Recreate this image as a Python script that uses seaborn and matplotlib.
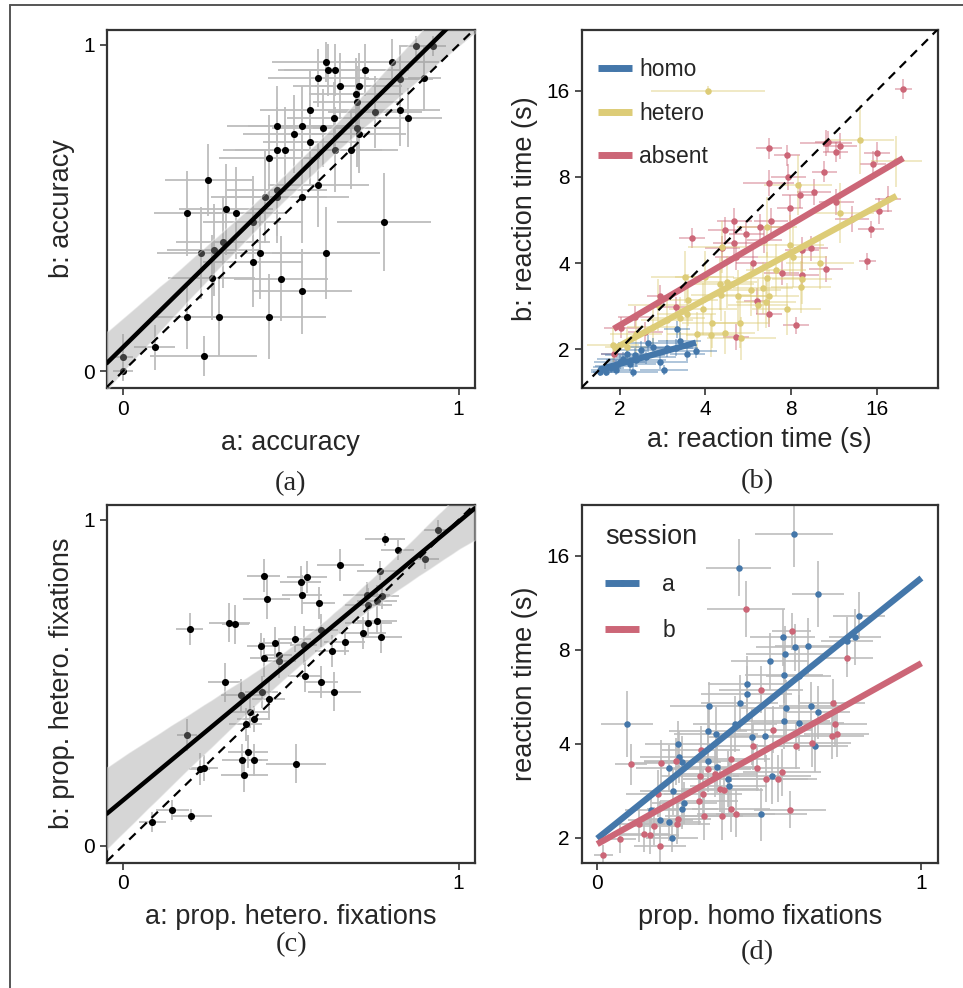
import numpy as np
import matplotlib
matplotlib.use("Agg")
import matplotlib.pyplot as plt
import seaborn as sns
from matplotlib.lines import Line2D

# ---------------- data ----------------
# (a) accuracy, session a vs b
acc_a = [0.873,0.923,0.605,0.802,0.612,0.631,0.721,0.582,0.825,0.898,0.646,0.702,0.694,0.696,0.557,0.751,0.825,0.630,0.850,0.459,0.533,0.595,0.696,0.704,0.508,0.557,0.459,0.483,0.631,0.679,0.436,0.254,0.582,0.422,0.459,0.459,0.533,0.192,0.308,0.337,0.387,0.777,0.297,0.232,0.270,0.407,0.387,0.605,0.264,0.471,0.533,0.192,0.287,0.436,0.094,0.240,0.0,0.0]
acc_b = [0.995,0.995,0.947,0.947,0.923,0.923,0.923,0.898,0.896,0.898,0.873,0.873,0.849,0.825,0.801,0.795,0.801,0.775,0.776,0.752,0.752,0.745,0.745,0.727,0.727,0.702,0.678,0.678,0.678,0.678,0.654,0.585,0.571,0.533,0.555,0.533,0.533,0.484,0.496,0.484,0.458,0.458,0.396,0.362,0.371,0.361,0.336,0.362,0.287,0.284,0.245,0.167,0.167,0.167,0.073,0.047,0.044,0.0]
acc_a_err = [0.05,0.04,0.16,0.14,0.15,0.15,0.13,0.15,0.10,0.05,0.14,0.13,0.14,0.13,0.15,0.14,0.12,0.14,0.10,0.15,0.16,0.15,0.13,0.14,0.15,0.14,0.16,0.15,0.14,0.14,0.15,0.13,0.15,0.16,0.15,0.15,0.14,0.10,0.14,0.15,0.15,0.14,0.14,0.13,0.14,0.15,0.15,0.16,0.13,0.14,0.15,0.10,0.13,0.17,0.06,0.16,0.03,0.03]
acc_b_err = [0.03,0.03,0.06,0.07,0.08,0.08,0.08,0.09,0.10,0.10,0.10,0.10,0.11,0.11,0.12,0.11,0.11,0.11,0.09,0.12,0.12,0.12,0.12,0.12,0.12,0.13,0.13,0.13,0.13,0.12,0.13,0.11,0.13,0.14,0.14,0.14,0.14,0.13,0.14,0.14,0.14,0.15,0.14,0.14,0.14,0.14,0.14,0.14,0.13,0.13,0.13,0.10,0.12,0.13,0.07,0.06,0.07,0.03]

# (b) reaction time (log2 seconds), session a vs b, per trial type
homo_a = [1.67,1.89,1.79,1.47,1.52,1.15,0.84,0.96,0.77,1.12,1.31,1.66,1.39,1.08,1.19,0.96,1.25,1.55,0.84,1.04,0.90,1.18,1.33,1.00,1.70,0.77]
homo_b = [1.23,0.98,0.94,0.85,0.76,0.74,0.74,0.76,0.74,0.83,0.91,1.02,1.03,0.95,0.87,0.81,0.99,1.01,0.79,0.89,0.78,0.93,1.07,0.85,1.10,0.76]
homo_a_err = [0.15,0.25,0.20,0.30,0.28,0.30,0.15,0.20,0.10,0.30,0.35,0.25,0.30,0.30,0.35,0.25,0.30,0.30,0.15,0.30,0.15,0.35,0.35,0.30,0.25,0.10]
homo_b_err = [0.10,0.08,0.10,0.08,0.06,0.06,0.05,0.06,0.05,0.08,0.08,0.10,0.10,0.08,0.08,0.06,0.10,0.10,0.06,0.08,0.05,0.08,0.10,0.08,0.10,0.05]

hetero_a = [2.03,3.80,4.23,3.08,2.72,3.57,2.99,3.02,3.34,2.83,3.13,3.12,2.72,2.74,2.67,2.53,2.38,2.95,2.62,2.40,2.23,2.07,2.42,2.08,1.97,1.78,1.76,1.45,0.92,2.17,2.18,2.25,2.20,1.99,1.80,1.70,2.71,1.55,1.19,1.08,1.39,1.90]
hetero_b = [4.00,3.43,3.18,2.91,2.42,2.58,2.21,2.07,2.00,1.92,1.82,1.72,1.83,1.62,1.71,1.69,1.62,1.47,1.51,1.31,1.19,1.16,1.13,1.31,1.47,1.41,1.84,1.51,1.05,1.76,1.63,1.78,2.19,1.84,1.57,1.36,1.55,1.34,1.18,1.03,1.26,1.18]
hetero_a_err = [0.67,0.40,0.30,0.40,0.35,0.40,0.40,0.40,0.40,0.35,0.35,0.35,0.40,0.35,0.35,0.35,0.35,0.40,0.35,0.35,0.35,0.30,0.40,0.35,0.40,0.35,0.40,0.35,0.30,0.40,0.35,0.35,0.40,0.35,0.35,0.30,0.35,0.30,0.30,0.25,0.30,0.35]
hetero_b_err = [0.05,0.40,0.30,0.35,0.35,0.35,0.35,0.35,0.30,0.30,0.30,0.30,0.30,0.30,0.30,0.30,0.30,0.30,0.30,0.30,0.25,0.25,0.25,0.30,0.30,0.30,0.30,0.30,0.20,0.30,0.30,0.30,0.30,0.30,0.30,0.25,0.30,0.25,0.25,0.20,0.25,0.25]

absent_a = [4.31,2.74,2.95,3.41,3.43,3.57,3.52,4.00,3.96,3.39,2.74,2.97,3.10,3.27,2.99,3.53,4.13,4.03,3.71,3.93,2.77,2.64,2.48,2.34,1.84,2.34,2.20,2.36,2.69,3.13,3.23,3.89,3.41,2.89,3.13,2.60,2.74,3.06,2.36,1.47,1.66,2.23,2.56,0.93,1.02,1.18,1.30]
absent_b = [4.02,3.33,3.25,3.39,3.41,3.36,3.29,3.28,3.15,3.06,2.93,3.00,2.79,2.82,2.64,2.71,2.74,2.60,2.51,2.39,2.49,2.42,2.34,2.49,2.29,2.23,2.17,2.07,2.27,2.15,2.17,2.02,1.93,1.89,1.86,1.56,1.41,1.28,1.14,1.62,1.49,2.38,2.00,0.95,1.25,1.38,1.20]
absent_a_err = [0.10,0.15,0.15,0.30,0.15,0.20,0.15,0.15,0.15,0.15,0.30,0.20,0.20,0.20,0.15,0.20,0.15,0.15,0.20,0.15,0.20,0.25,0.20,0.20,0.15,0.25,0.20,0.25,0.20,0.20,0.20,0.10,0.20,0.20,0.20,0.15,0.15,0.15,0.15,0.15,0.15,0.20,0.20,0.15,0.20,0.20,0.20]
absent_b_err = [0.12,0.12,0.12,0.15,0.12,0.15,0.12,0.12,0.15,0.12,0.15,0.15,0.15,0.15,0.15,0.15,0.15,0.15,0.15,0.10,0.15,0.15,0.15,0.15,0.12,0.15,0.15,0.15,0.15,0.15,0.15,0.10,0.15,0.15,0.15,0.15,0.15,0.10,0.15,0.12,0.12,0.15,0.15,0.10,0.12,0.12,0.12]

# (c) proportion of hetero fixations, session a vs b
phet_a = [0.937,0.781,0.818,0.900,0.647,0.767,0.419,0.548,0.529,0.533,0.428,0.726,0.772,0.757,0.583,0.730,0.199,0.317,0.334,0.731,0.757,0.590,0.714,0.770,0.511,0.454,0.660,0.538,0.410,0.623,0.464,0.419,0.464,0.541,0.304,0.590,0.630,0.353,0.413,0.434,0.379,0.389,0.365,0.191,0.372,0.354,0.391,0.516,0.228,0.242,0.361,0.147,0.204,0.087]
phet_b = [0.969,0.941,0.908,0.880,0.862,0.844,0.829,0.824,0.808,0.770,0.757,0.770,0.767,0.750,0.745,0.740,0.665,0.684,0.679,0.684,0.691,0.661,0.653,0.640,0.635,0.622,0.626,0.615,0.612,0.597,0.584,0.577,0.566,0.520,0.502,0.502,0.472,0.461,0.472,0.451,0.410,0.388,0.372,0.339,0.288,0.262,0.263,0.252,0.235,0.239,0.216,0.110,0.092,0.073]
phet_a_err = [0.04,0.06,0.05,0.04,0.07,0.07,0.05,0.06,0.06,0.06,0.07,0.07,0.05,0.06,0.05,0.07,0.04,0.06,0.04,0.07,0.06,0.05,0.07,0.06,0.05,0.05,0.06,0.04,0.04,0.05,0.04,0.04,0.05,0.05,0.05,0.05,0.08,0.06,0.05,0.05,0.06,0.05,0.05,0.03,0.06,0.06,0.04,0.09,0.03,0.04,0.07,0.05,0.06,0.04]
phet_b_err = [0.03,0.02,0.03,0.03,0.05,0.03,0.05,0.05,0.05,0.06,0.06,0.04,0.04,0.05,0.05,0.05,0.05,0.06,0.06,0.04,0.04,0.05,0.05,0.05,0.04,0.05,0.04,0.06,0.04,0.05,0.05,0.06,0.05,0.05,0.06,0.05,0.06,0.05,0.05,0.06,0.05,0.04,0.05,0.05,0.05,0.05,0.05,0.06,0.05,0.04,0.05,0.03,0.02,0.03]

# (d) proportion of homo fixations vs reaction time (log2 s), by session
sa_prop = [0.606,0.436,0.681,0.808,0.572,0.795,0.609,0.649,0.580,0.533,0.577,0.621,0.461,0.461,0.439,0.346,0.583,0.660,0.681,0.425,0.577,0.621,0.341,0.367,0.478,0.516,0.248,0.673,0.252,0.263,0.221,0.343,0.369,0.404,0.405,0.539,0.233,0.268,0.263,0.166,0.194,0.221,0.506,0.232,0.091,0.770]
sa_rt = [4.233,3.873,3.597,3.360,3.131,3.138,3.025,3.042,2.954,2.876,2.731,2.724,2.636,2.530,2.435,2.406,2.382,2.406,2.336,2.212,2.240,2.219,2.141,2.106,2.071,2.085,1.993,1.975,1.859,1.806,1.742,1.816,1.753,1.625,1.548,1.657,1.495,1.371,1.311,1.300,1.194,1.170,1.251,1.000,2.212,3.095]
sa_prop_err = [0.12,0.10,0.08,0.08,0.10,0.08,0.12,0.10,0.12,0.12,0.12,0.10,0.12,0.14,0.12,0.12,0.14,0.10,0.10,0.13,0.14,0.14,0.12,0.13,0.14,0.14,0.10,0.10,0.12,0.12,0.10,0.14,0.13,0.14,0.12,0.12,0.10,0.10,0.11,0.08,0.10,0.10,0.14,0.08,0.08,0.08]
sa_rt_err = [0.35,0.30,0.35,0.25,0.30,0.30,0.25,0.30,0.30,0.30,0.30,0.30,0.30,0.30,0.30,0.25,0.30,0.25,0.28,0.30,0.30,0.30,0.30,0.28,0.30,0.28,0.25,0.28,0.28,0.28,0.25,0.30,0.28,0.30,0.28,0.30,0.25,0.22,0.22,0.20,0.20,0.20,0.28,0.15,0.35,0.25]
sb_prop = [0.459,0.600,0.770,0.506,0.727,0.732,0.724,0.739,0.542,0.482,0.614,0.664,0.320,0.413,0.105,0.198,0.243,0.343,0.364,0.317,0.494,0.570,0.521,0.557,0.379,0.392,0.327,0.188,0.314,0.413,0.429,0.330,0.386,0.595,0.250,0.247,0.130,0.175,0.144,0.163,0.194,0.070,0.019]
sb_rt = [3.431,3.194,2.912,2.576,2.435,2.212,2.088,2.106,2.148,1.972,1.982,2.007,1.936,1.841,1.781,1.795,1.816,1.735,1.682,1.657,1.746,1.700,1.629,1.629,1.523,1.505,1.470,1.470,1.392,1.311,1.258,1.230,1.230,1.300,1.205,1.152,1.152,1.124,1.046,1.028,0.912,0.993,0.823]
sb_prop_err = [0.12,0.06,0.08,0.13,0.10,0.10,0.10,0.10,0.12,0.12,0.12,0.12,0.12,0.12,0.05,0.10,0.10,0.13,0.13,0.12,0.13,0.12,0.13,0.12,0.12,0.12,0.12,0.10,0.12,0.12,0.12,0.12,0.12,0.11,0.10,0.10,0.08,0.09,0.08,0.09,0.08,0.05,0.03]
sb_rt_err = [0.30,0.20,0.20,0.25,0.25,0.25,0.25,0.25,0.25,0.25,0.25,0.25,0.25,0.25,0.22,0.25,0.25,0.25,0.25,0.25,0.25,0.25,0.25,0.25,0.25,0.25,0.25,0.25,0.25,0.25,0.25,0.25,0.25,0.20,0.22,0.22,0.20,0.20,0.20,0.20,0.20,0.15,0.10]

log2_ticks = [1, 2, 3, 4]
log2_labels = ["2", "4", "8", "16"]
unit_ticks = [0, 1]

BLUE, YELLOW, RED = "#4477AA", "#DDCC77", "#CC6677"
ERR_GREY = "#BDBDBD"
SPINE = "#333333"

# ---------------- style ----------------
sns.set_theme(style="ticks")
plt.rcParams['font.family'] = ['Liberation Sans', 'DejaVu Sans']
TICK_FS = 15
LAB_FS = 19.5

fig = plt.figure(figsize=(9.63, 9.88), dpi=100)

def style_axes(ax):
    for sp in ax.spines.values():
        sp.set_color(SPINE)
        sp.set_linewidth(1.6)
    ax.tick_params(direction="out", length=5, width=1.2, color=SPINE,
                   labelsize=TICK_FS, labelcolor="black")

def unit_panel(rect, xv, yv, xe, ye, xlabel, ylabel):
    ax = fig.add_axes(rect)
    lim = (-0.048, 1.048)
    ax.set_xlim(lim)
    ax.set_ylim(-0.052, 1.046)
    ax.errorbar(xv, yv, xerr=xe, yerr=ye, fmt="none", ecolor=ERR_GREY,
                elinewidth=1.3, zorder=1)
    sns.regplot(x=np.array(xv), y=np.array(yv), ax=ax, truncate=False,
                color="black", seed=0,
                scatter_kws=dict(s=26, linewidths=0, alpha=1, zorder=2),
                line_kws=dict(lw=3.2, zorder=5))
    band = ax.collections[-1]
    band.set_facecolor("#999999")
    band.set_alpha(0.4)
    band.set_zorder(3)
    ax.axline((0, 0), slope=1, ls=(0, (4, 3)), color="black", lw=1.6, zorder=4)
    ax.set_xlim(lim)
    ax.set_ylim(-0.052, 1.046)
    ax.set_xticks(unit_ticks)
    ax.set_yticks(unit_ticks)
    ax.set_xlabel(xlabel, fontsize=LAB_FS, labelpad=8)
    ax.set_ylabel(ylabel, fontsize=LAB_FS, labelpad=6)
    style_axes(ax)
    return ax

# (a)
unit_panel([0.111, 0.607, 0.382, 0.363], acc_a, acc_b, acc_a_err, acc_b_err,
           "a: accuracy", "b: accuracy")
# (c)
unit_panel([0.111, 0.127, 0.382, 0.362], phet_a, phet_b, phet_a_err, phet_b_err,
           "a: prop. hetero. fixations", "b: prop. hetero. fixations")

# (b)
axb = fig.add_axes([0.604, 0.607, 0.370, 0.363])
xl_b, yl_b = (0.556, 4.715), (0.547, 4.709)
axb.set_xlim(xl_b); axb.set_ylim(yl_b)
groups_b = [("absent", absent_a, absent_b, absent_a_err, absent_b_err, RED),
            ("hetero", hetero_a, hetero_b, hetero_a_err, hetero_b_err, YELLOW),
            ("homo", homo_a, homo_b, homo_a_err, homo_b_err, BLUE)]
for i, (name, xa, xb, xe, ye, col) in enumerate(groups_b):
    axb.errorbar(xa, xb, xerr=xe, yerr=ye, fmt="none", ecolor=col, alpha=0.5,
                 elinewidth=1.2, zorder=1 + i * 0.1)
for i, (name, xa, xb, xe, ye, col) in enumerate(groups_b):
    sns.regplot(x=np.array(xa), y=np.array(xb), ax=axb, ci=None, color=col,
                scatter_kws=dict(s=22, linewidths=0, alpha=1, zorder=2 + i * 0.1),
                line_kws=dict(lw=4.5, zorder=3 + i * 0.1, solid_capstyle="butt"))
axb.axline((1, 1), slope=1, ls=(0, (4, 3)), color="black", lw=1.6, zorder=4)
axb.set_xlim(xl_b); axb.set_ylim(yl_b)
axb.set_xticks(log2_ticks); axb.set_xticklabels(log2_labels)
axb.set_yticks(log2_ticks); axb.set_yticklabels(log2_labels)
axb.set_xlabel("a: reaction time (s)", fontsize=LAB_FS, labelpad=6)
axb.set_ylabel("b: reaction time (s)", fontsize=LAB_FS, labelpad=6)
style_axes(axb)
hb = [Line2D([], [], color=c, lw=5, marker="o", markersize=4,
             solid_capstyle="butt") for c in (BLUE, YELLOW, RED)]
axb.legend(hb, ["homo", "hetero", "absent"], loc="upper left", frameon=False,
           fontsize=16.5, handlelength=1.5, handletextpad=0.3, labelspacing=0.9,
           borderaxespad=0.3, bbox_to_anchor=(0.0, 0.965))

# (d)
axd = fig.add_axes([0.604, 0.127, 0.370, 0.362])
xl_d, yl_d = (-0.048, 1.051), (0.738, 4.54)
axd.errorbar(sa_prop, sa_rt, xerr=sa_prop_err, yerr=sa_rt_err, fmt="none",
             ecolor=ERR_GREY, elinewidth=1.2, zorder=1)
axd.errorbar(sb_prop, sb_rt, xerr=sb_prop_err, yerr=sb_rt_err, fmt="none",
             ecolor=ERR_GREY, elinewidth=1.2, zorder=1)
axd.set_xlim(0, 1)
axd.set_ylim(yl_d)
for xv, yv, col, z in [(sa_prop, sa_rt, BLUE, 2), (sb_prop, sb_rt, RED, 2.1)]:
    sns.regplot(x=np.array(xv), y=np.array(yv), ax=axd, ci=None, color=col,
                truncate=False,
                scatter_kws=dict(s=22, linewidths=0, alpha=1, zorder=z),
                line_kws=dict(lw=4.5, zorder=3, solid_capstyle="butt"))
axd.set_xlim(xl_d); axd.set_ylim(yl_d)
axd.set_xticks(unit_ticks)
axd.set_yticks(log2_ticks); axd.set_yticklabels(log2_labels)
axd.set_xlabel("prop. homo fixations", fontsize=LAB_FS, labelpad=8)
axd.set_ylabel("reaction time (s)", fontsize=LAB_FS, labelpad=6)
style_axes(axd)
hd = [Line2D([], [], color=c, lw=5, marker="o", markersize=4,
             solid_capstyle="butt") for c in (BLUE, RED)]
axd.legend(hd, ["a", "b"], title="session", loc="upper left", frameon=False,
           fontsize=16.5, title_fontsize=LAB_FS, handlelength=1.5,
           handletextpad=1.0, labelspacing=1.0, borderaxespad=0.3,
           bbox_to_anchor=(0.02, 0.99), alignment="left")

# panel captions
W, H = 963, 988
for lab, px, py in [("(a)", 291, 484), ("(b)", 757, 482), ("(c)", 292, 945), ("(d)", 757, 953)]:
    fig.text(px / W, 1 - py / H, lab, ha="center", va="center", fontsize=20.5,
             family=["Liberation Serif", "DejaVu Serif"])

# outer frame (left and top edges)
fig.add_artist(Line2D([10 / W, 10 / W], [0, 1 - 5 / H], transform=fig.transFigure,
                      color="#555555", lw=1.4))
fig.add_artist(Line2D([10 / W, 1], [1 - 5 / H, 1 - 5 / H], transform=fig.transFigure,
                      color="#555555", lw=1.4))

fig.savefig("out.png", dpi=100, facecolor="white")
